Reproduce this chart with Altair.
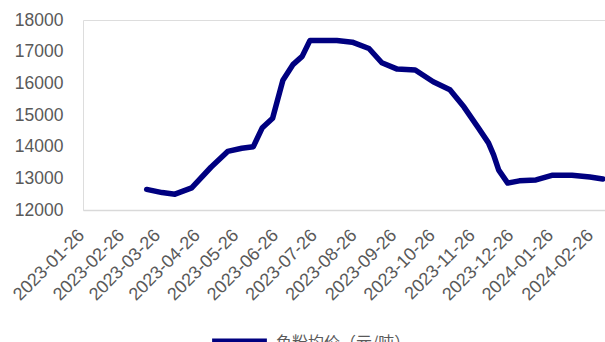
import altair as alt
import pandas as pd

# Fishmeal average price, CNY per tonne
dates = [
    "2023-03-15", "2023-03-27", "2023-04-06", "2023-04-19", "2023-05-04",
    "2023-05-17", "2023-05-28", "2023-06-06", "2023-06-13", "2023-06-21",
    "2023-06-29", "2023-07-07", "2023-07-14", "2023-07-20", "2023-08-10",
    "2023-08-22", "2023-09-04", "2023-09-14", "2023-09-26", "2023-10-10",
    "2023-10-24", "2023-11-06", "2023-11-17", "2023-11-28", "2023-12-06",
    "2023-12-10", "2023-12-14", "2023-12-21", "2023-12-30", "2024-01-12",
    "2024-01-25", "2024-02-09", "2024-02-23", "2024-03-04",
]
prices = [
    12650, 12550, 12500, 12700, 13350,
    13850, 13950, 14000, 14600, 14900,
    16100, 16600, 16850, 17350, 17350,
    17300, 17100, 16650, 16450, 16420,
    16050, 15800, 15250, 14600, 14120,
    13740, 13260, 12850, 12920, 12950,
    13100, 13100, 13040, 12980,
]
series_name = "鱼粉均价（元/吨）"

tick_dates = [
    (2023, 1), (2023, 2), (2023, 3), (2023, 4), (2023, 5), (2023, 6), (2023, 7),
    (2023, 8), (2023, 9), (2023, 10), (2023, 11), (2023, 12), (2024, 1), (2024, 2),
]
y_ticks = [12000, 13000, 14000, 15000, 16000, 17000, 18000]

df = pd.DataFrame({
    "date": [d + "T00:00:00" for d in dates],
    "price": prices,
    "series": series_name,
})

label_font = "Liberation Sans, Arial, sans-serif"
label_color = "#595959"

x_axis = alt.Axis(
    values=[alt.DateTime(year=y, month=m, date=26) for y, m in tick_dates],
    format="%Y-%m-%d",
    labelAngle=-45,
    labelAlign="right",
    labelBaseline="top",
    labelPadding=16,
    labelOffset=-10,
    labelFontSize=18,
    labelColor=label_color,
    labelFont=label_font,
    labelOverlap=False,
    labelFlush=False,
    ticks=False,
    grid=False,
    domainColor="#d9d9d9",
    domainWidth=1.5,
    title=None,
)

y_axis = alt.Axis(
    values=y_ticks,
    format="d",
    labelFontSize=17.5,
    labelColor=label_color,
    labelFont=label_font,
    labelPadding=20,
    ticks=False,
    domain=False,
    grid=False,
    title=None,
)

chart = (
    alt.Chart(df)
    .mark_line(strokeWidth=5.5, strokeJoin="round", strokeCap="round")
    .encode(
        x=alt.X(
            "date:T",
            axis=x_axis,
            scale=alt.Scale(
                domain=[
                    alt.DateTime(year=2023, month=1, date=24, hours=10),
                    alt.DateTime(year=2024, month=3, date=5, hours=17),
                ]
            ),
        ),
        y=alt.Y(
            "price:Q",
            axis=y_axis,
            scale=alt.Scale(domain=[12000, 18000], nice=False, zero=False),
        ),
        color=alt.Color(
            "series:N",
            scale=alt.Scale(domain=[series_name], range=["#000080"]),
            legend=alt.Legend(
                title=None,
                orient="none",
                legendX=125,
                legendY=291,
                symbolType="stroke",
                symbolSize=3000,
                symbolStrokeWidth=8,
                labelFontSize=16,
                labelColor=label_color,
                labelFont="Noto Sans CJK SC",
                labelOffset=5,
            ),
        ),
    )
    .properties(
        width=522,
        height=190,
        autosize=alt.AutoSizeParams(type="none"),
        padding={"left": 83, "top": 20, "right": 0, "bottom": 132},
    )
    .configure_view(stroke=None)
    .configure(background="white")
)

chart.save("out.html", embed_options={"renderer": "svg", "actions": False})
